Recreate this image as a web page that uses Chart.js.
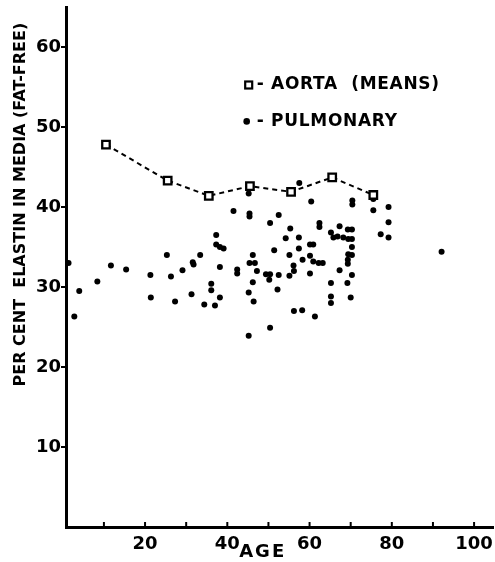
<!DOCTYPE html>
<html>
<head>
<meta charset="utf-8">
<script src="https://cdn.jsdelivr.net/npm/chart.js@4.4.1/dist/chart.umd.min.js"></script>
<style>
  html, body { margin: 0; padding: 0; background: #fff; }
</style>
</head>
<body>
<canvas id="elastinChart" width="495" height="562"></canvas>
<script>
// aorta means, by age
const aortaAge = [10.5, 25.5, 35.5, 45.5, 55.5, 65.5, 75.5]
const aortaElastin = [47.8, 43.3, 41.4, 42.6, 41.9, 43.7, 41.5]

// pulmonary, single cases
const pulmonaryAge = [
    1.4, 4.0, 2.8, 8.4, 11.7, 15.4, 21.3, 21.4, 25.3, 26.3,
    27.3, 29.1, 31.6, 31.8, 31.3, 33.4, 34.4, 36.1, 36.1, 37.3,
    37.3, 38.2, 39.1, 38.2, 38.2, 37.0, 41.5, 42.4, 42.4, 45.2,
    45.4, 45.4, 46.2, 45.4, 46.7, 47.2, 46.2, 45.2, 46.4, 45.2,
    50.4, 52.5, 51.4, 49.4, 50.4, 50.2, 52.5, 52.2, 50.4, 55.3,
    54.2, 55.1, 56.1, 56.2, 55.1, 57.4, 57.4, 57.5, 56.2, 58.2,
    60.4, 60.1, 60.9, 58.3, 60.1, 60.9, 62.2, 63.2, 60.1, 61.3,
    62.4, 62.4, 65.2, 67.3, 65.8, 66.8, 68.2, 69.4, 69.3, 70.3,
    70.3, 70.3, 69.4, 70.3, 69.3, 69.3, 67.3, 65.2, 69.2, 70.3,
    65.2, 65.2, 70.0, 70.4, 70.4, 75.5, 75.5, 79.2, 79.2, 77.3,
    79.2, 92.1
]
const pulmonaryElastin = [
    33.0, 29.5, 26.3, 30.7, 32.7, 32.2, 31.5, 28.7, 34.0, 31.3,
    28.2, 32.1, 33.1, 32.8, 29.1, 34.0, 27.8, 30.4, 29.6, 36.5,
    35.3, 35.0, 34.8, 32.5, 28.7, 27.7, 39.5, 32.2, 31.7, 41.7,
    39.2, 38.8, 34.0, 33.0, 33.0, 32.0, 30.6, 29.3, 28.2, 23.9,
    38.0, 39.0, 34.6, 31.6, 31.6, 30.9, 31.5, 29.7, 24.9, 37.3,
    36.1, 34.0, 32.7, 32.0, 31.4, 36.2, 34.8, 43.0, 27.0, 27.1,
    40.7, 35.3, 35.3, 33.4, 33.9, 33.2, 33.0, 33.0, 31.7, 26.3,
    38.0, 37.5, 36.8, 37.6, 36.2, 36.3, 36.2, 36.0, 37.2, 37.2,
    36.0, 35.0, 34.1, 34.0, 33.4, 32.9, 32.1, 30.5, 30.5, 31.5,
    28.8, 28.0, 28.7, 40.8, 40.3, 41.0, 39.6, 40.0, 38.1, 36.6,
    36.2, 34.4
]

const xTickValues = [10, 20, 30, 40, 50, 60, 70, 80, 90, 100]
const xTickLabels = [20, 40, 60, 80, 100]
const yTickValues = [10, 20, 30, 40, 50, 60]

const FONT = '"DejaVu Sans", sans-serif'

const toPoints = (xs, ys) => xs.map((x, i) => ({ x: x, y: ys[i] }))

// inward x ticks, axis titles and the key
const paperBits = {
    id: 'paperBits',
    afterDraw(chart) {
        const ctx = chart.ctx
        const xs = chart.scales.x
        const ys = chart.scales.y
        const area = chart.chartArea
        ctx.save()

        // x tick marks point up into the plot
        ctx.strokeStyle = '#000'
        ctx.lineWidth = 2
        xTickValues.forEach(v => {
            const px = xs.getPixelForValue(v)
            ctx.beginPath()
            ctx.moveTo(px, area.bottom)
            ctx.lineTo(px, area.bottom - 5)
            ctx.stroke()
        })

        ctx.fillStyle = '#000'
        ctx.textBaseline = 'middle'

        // y title, sits higher than the axis middle
        ctx.save()
        ctx.translate(21, ys.getPixelForValue(40.3))
        ctx.rotate(-Math.PI / 2)
        ctx.textAlign = 'center'
        ctx.font = 'bold 16px ' + FONT
        ctx.fillText('PER CENT  ELASTIN IN MEDIA (FAT-FREE)', 0, 0)
        ctx.restore()

        // x title
        ctx.textAlign = 'center'
        ctx.font = 'bold 18px ' + FONT
        ctx.letterSpacing = '2px'
        ctx.fillText('AGE', xs.getPixelForValue(48.6), 552)

        // key
        const kx = xs.getPixelForValue(45.2)
        const ky1 = ys.getPixelForValue(55.25)
        const ky2 = ys.getPixelForValue(50.7)
        ctx.letterSpacing = '0px'
        ctx.lineWidth = 2.2
        ctx.fillStyle = '#fff'
        ctx.fillRect(kx - 3.5, ky1 - 3.5, 7, 7)
        ctx.strokeRect(kx - 3.5, ky1 - 3.5, 7, 7)
        ctx.fillStyle = '#000'
        ctx.beginPath()
        ctx.arc(kx - 2, ky2, 3.3, 0, Math.PI * 2)
        ctx.fill()
        ctx.textAlign = 'left'
        ctx.font = 'bold 17px ' + FONT
        ctx.letterSpacing = '0.7px'
        ctx.fillText('- AORTA  (MEANS)', kx + 8, ky1)
        ctx.fillText('- PULMONARY', kx + 8, ky2)

        ctx.restore()
    }
}

const data = {
    datasets: [
        {
            label: 'Aorta (means)',
            data: toPoints(aortaAge, aortaElastin),
            showLine: true,
            borderColor: '#000',
            borderWidth: 2,
            borderDash: [5, 4],
            pointStyle: 'rect',
            pointRadius: 5.3,
            pointBorderWidth: 2.3,
            pointBackgroundColor: '#fff',
            pointBorderColor: '#000'
        },
        {
            label: 'Pulmonary',
            data: toPoints(pulmonaryAge, pulmonaryElastin),
            pointStyle: 'circle',
            pointRadius: 3,
            pointBorderWidth: 0,
            pointBackgroundColor: '#000'
        }
    ]
}

const config = {
    type: 'scatter',
    data: data,
    options: {
        responsive: false,
        animation: false,
        devicePixelRatio: 1,
        layout: {
            autoPadding: false,
            padding: { top: 7, right: 2, left: 0, bottom: 0 }
        },
        plugins: {
            legend: { display: false },
            tooltip: { enabled: false }
        },
        scales: {
            x: {
                type: 'linear',
                min: 0.78,
                max: 104.6,
                afterFit: s => {
                    s.height = 35
                    s.paddingLeft = 0
                    s.paddingRight = 0
                },
                afterBuildTicks: s => { s.ticks = xTickValues.map(v => ({ value: v })) },
                grid: { display: false },
                border: { display: true, color: '#000', width: 3 },
                ticks: {
                    color: '#000',
                    padding: -1,
                    maxRotation: 0,
                    autoSkip: false,
                    font: { family: FONT, size: 18, weight: 'bold' },
                    callback: v => xTickLabels.includes(v) ? String(v) : ''
                }
            },
            y: {
                type: 'linear',
                min: 0,
                max: 65,
                afterFit: s => {
                    s.width = 66
                    s.paddingTop = 0
                    s.paddingBottom = 0
                },
                afterBuildTicks: s => { s.ticks = yTickValues.map(v => ({ value: v })) },
                grid: {
                    drawOnChartArea: false,
                    drawTicks: true,
                    tickLength: 5,
                    color: '#000',
                    lineWidth: 2
                },
                border: { display: true, color: '#000', width: 3 },
                ticks: {
                    color: '#000',
                    padding: 0,
                    autoSkip: false,
                    font: { family: FONT, size: 18, weight: 'bold' }
                }
            }
        }
    },
    plugins: [paperBits]
}

const myChart = new Chart(
    document.getElementById('elastinChart'),
    config
)
</script>
</body>
</html>
